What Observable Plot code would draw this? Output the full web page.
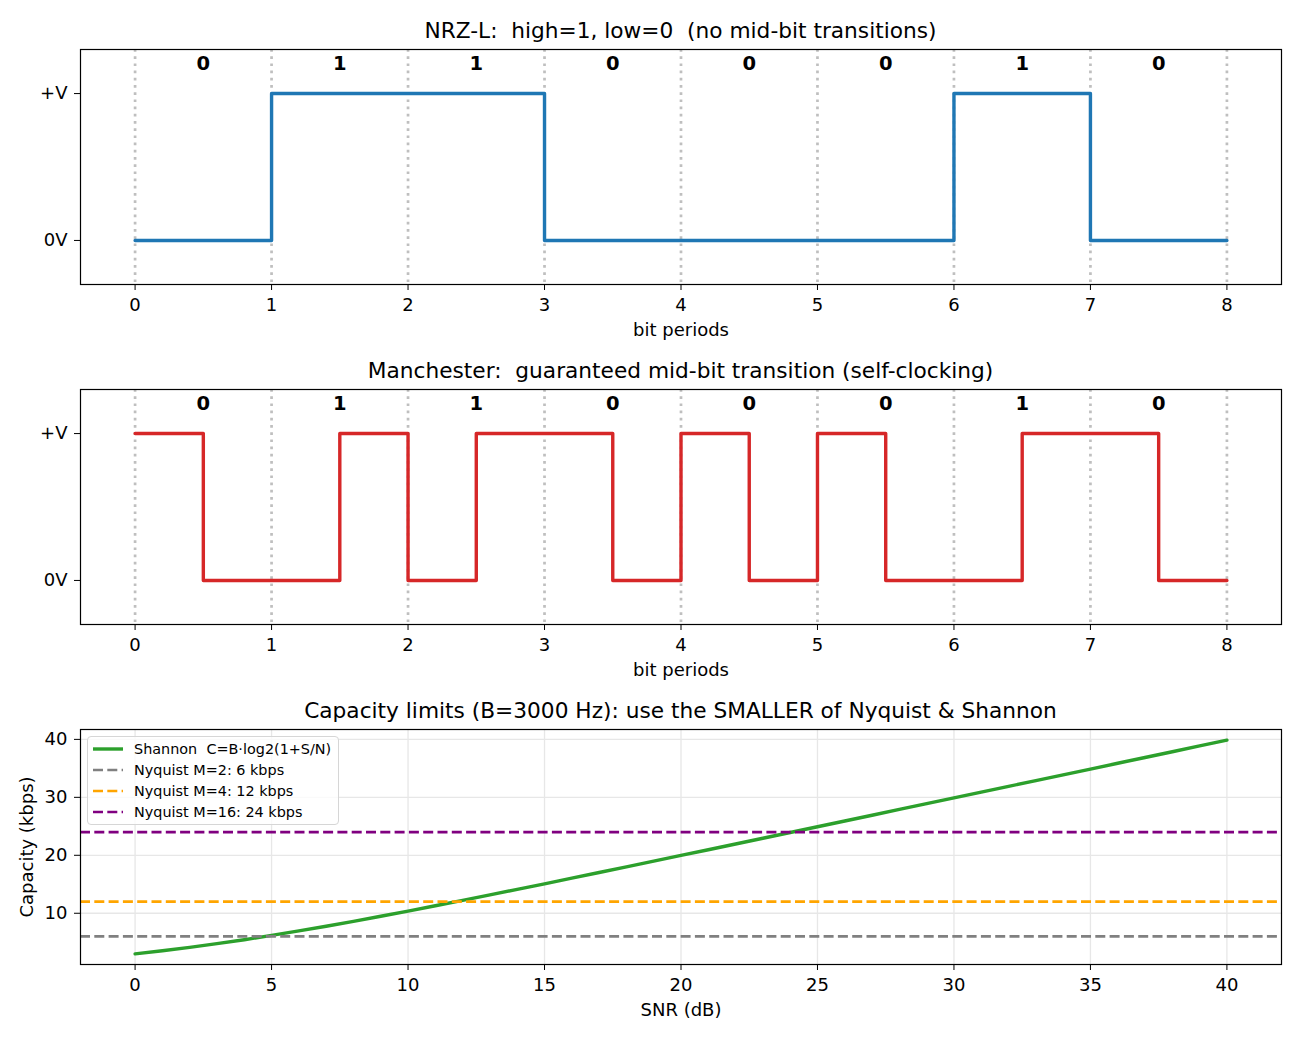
<!DOCTYPE html>
<html>
<head>
<meta charset="utf-8">
<script src="https://cdn.jsdelivr.net/npm/d3@7"></script>
<script src="https://cdn.jsdelivr.net/npm/@observablehq/plot@0.6"></script>
<style>
  html, body { margin: 0; padding: 0; background: #fff; }
  #page { position: relative; width: 1300px; height: 1040px; overflow: hidden; background: #fff;
          font-family: "DejaVu Sans", sans-serif; color: #000; }
  .panel { position: absolute; left: 0; }
  .title { position: absolute; left: 80px; width: 1201px; text-align: center; font-size: 21.7px;
           line-height: 22px; white-space: pre; }
  #legend { position: absolute; left: 87px; top: 736px; width: 252px; height: 89px;
            border: 1px solid #d6d6d6; border-radius: 4px; background: rgba(255,255,255,0.8);
            box-sizing: border-box; }
  .lg-row { position: absolute; left: 0; height: 20px; width: 100%; }
  .lg-row svg { position: absolute; left: 4px; top: 5px; }
  .lg-row span { position: absolute; left: 46px; top: 0; font-size: 14.4px; line-height: 20px; white-space: pre; }
</style>
</head>
<body>
<div id="page"></div>
<script>
// Bit sequence encoded by both line codes
const bits = [0, 1, 1, 0, 0, 0, 1, 0];
const levelLabels = ["0V", "+V"];

// Shannon capacity over SNR (dB), bandwidth 3000 Hz, in kbps
const snrDb = [0, 1, 2, 3, 4, 5, 6, 7, 8, 9, 10, 11, 12, 13, 14, 15, 16, 17, 18, 19, 20,
               21, 22, 23, 24, 25, 26, 27, 28, 29, 30, 31, 32, 33, 34, 35, 36, 37, 38, 39, 40];
const shannonKbps = [3.000, 3.527, 4.110, 4.748, 5.437, 6.172, 6.949, 7.764, 8.609, 9.482,
                     10.378, 11.293, 12.224, 13.167, 14.121, 15.083, 16.053, 17.028, 18.007, 18.989,
                     19.975, 20.963, 21.952, 22.943, 23.935, 24.928, 25.922, 26.916, 27.911, 28.906,
                     29.902, 30.898, 31.894, 32.889, 33.886, 34.882, 35.878, 36.874, 37.871, 38.867, 39.863];

// Nyquist limits for M signal levels
const nyquistM = [2, 4, 16];
const nyquistKbps = [6, 12, 24];

const snrTicks = [0, 5, 10, 15, 20, 25, 30, 35, 40];
const capTicks = [10, 20, 30, 40];

const titles = [
  "NRZ-L:  high=1, low=0  (no mid-bit transitions)",
  "Manchester:  guaranteed mid-bit transition (self-clocking)",
  "Capacity limits (B=3000 Hz): use the SMALLER of Nyquist & Shannon"
];
const shannonLabel = "Shannon  C=B\u00b7log2(1+S/N)";

// ---- styling ----
const FONT = "DejaVu Sans";
const nyquistColors = ["#808080", "#ffa500", "#800080"];
const page = document.getElementById("page");

// step points: one level per interval, last level repeated at the end
function stepPoints(levels, dt) {
  const pts = levels.map((v, i) => ({t: i * dt, v}));
  pts.push({t: levels.length * dt, v: levels[levels.length - 1]});
  return pts;
}

const nrzPoints = stepPoints(bits, 1);
// Manchester (IEEE 802.3): 0 = high->low, 1 = low->high
const manchesterPoints = stepPoints(bits.flatMap(b => b ? [0, 1] : [1, 0]), 0.5);
const boundaries = d3.range(bits.length + 1);

function xLabel(text) {
  return Plot.text([text], {frameAnchor: "bottom", lineAnchor: "middle", dy: 46, text: d => d,
                            fontSize: 18, fill: "black"});
}

function signalPlot(points, color) {
  return Plot.plot({
    width: 1300, height: 305,
    marginTop: 10, marginBottom: 60, marginLeft: 80, marginRight: 19,
    x: {domain: [-0.4, 8.4]},
    y: {domain: [-0.3, 1.3]},
    style: {fontFamily: FONT, fontSize: "18px", color: "black", background: "white", overflow: "visible"},
    marks: [
      Plot.ruleX(boundaries, {x: d => d, stroke: "#bfbfbf", strokeWidth: 2.7, strokeDasharray: "2.7,4.5"}),
      Plot.line(points, {x: "t", y: "v", curve: "step-after", stroke: color, strokeWidth: 3.4}),
      Plot.text(bits, {x: (d, i) => i + 0.5, y: () => 1.2, text: d => String(d),
                       fontWeight: "bold", fontSize: 19.5, fill: "black"}),
      Plot.axisX({ticks: boundaries, tickFormat: d => String(d), tickSize: 6, tickPadding: 8,
                  label: null, fontSize: 18}),
      Plot.axisY({ticks: [0, 1], tickFormat: d => levelLabels[d], tickSize: 6, tickPadding: 7,
                  label: null, fontSize: 18}),
      xLabel("bit periods"),
      Plot.frame({stroke: "black", strokeWidth: 1.2})
    ]
  });
}

const shannon = snrDb.map((s, i) => ({snr: s, c: shannonKbps[i]}));

const capacityPlot = Plot.plot({
  width: 1300, height: 315,
  marginTop: 10, marginBottom: 70, marginLeft: 80, marginRight: 19,
  x: {domain: [-2, 42]},
  y: {domain: [1.157, 41.706]},
  style: {fontFamily: FONT, fontSize: "18px", color: "black", background: "white", overflow: "visible"},
  marks: [
    Plot.ruleX(snrTicks, {x: d => d, stroke: "#e7e7e7", strokeWidth: 1.3}),
    Plot.ruleY(capTicks, {y: d => d, stroke: "#e7e7e7", strokeWidth: 1.3}),
    Plot.line(shannon, {x: "snr", y: "c", stroke: "#2ca02c", strokeWidth: 3.4}),
    ...nyquistKbps.map((k, i) =>
      Plot.ruleY([k], {y: d => d, stroke: nyquistColors[i], strokeWidth: 2.7, strokeDasharray: "10,4.3"})),
    Plot.axisX({ticks: snrTicks, tickFormat: d => String(d), tickSize: 6, tickPadding: 8,
                label: null, fontSize: 18}),
    Plot.axisY({ticks: capTicks, tickFormat: d => String(d), tickSize: 6, tickPadding: 7,
                label: null, fontSize: 18}),
    xLabel("SNR (dB)"),
    Plot.text(["Capacity (kbps)"], {frameAnchor: "left", textAnchor: "middle", lineAnchor: "middle",
                                    dx: -53, rotate: -90, text: d => d, fontSize: 18, fill: "black"}),
    Plot.frame({stroke: "black", strokeWidth: 1.2})
  ]
});

const panels = [
  {node: signalPlot(nrzPoints, "#1f77b4"), top: 39},
  {node: signalPlot(manchesterPoints, "#d62728"), top: 379},
  {node: capacityPlot, top: 719}
];
panels.forEach((p, i) => {
  const div = document.createElement("div");
  div.className = "panel";
  div.style.top = p.top + "px";
  div.appendChild(p.node);
  page.appendChild(div);

  const t = document.createElement("div");
  t.className = "title";
  t.style.top = (p.top + 10 - 29.5) + "px";
  t.textContent = titles[i];
  page.appendChild(t);
});

// legend for the capacity panel
const legendItems = [
  {label: shannonLabel, color: "#2ca02c", dash: null, width: 3.4},
  ...nyquistM.map((m, i) => ({label: `Nyquist M=${m}: ${nyquistKbps[i]} kbps`,
                              color: nyquistColors[i], dash: "10,4.3", width: 2.7}))
];
const legend = document.createElement("div");
legend.id = "legend";
legendItems.forEach((it, i) => {
  const row = document.createElement("div");
  row.className = "lg-row";
  row.style.top = (2 + 21 * i) + "px";
  row.innerHTML = `<svg width="32" height="10"><line x1="1" x2="31" y1="5" y2="5" stroke="${it.color}"
    stroke-width="${it.width}" ${it.dash ? `stroke-dasharray="${it.dash}"` : ""}/></svg><span></span>`;
  row.querySelector("span").textContent = it.label;
  legend.appendChild(row);
});
page.appendChild(legend);
</script>
</body>
</html>
